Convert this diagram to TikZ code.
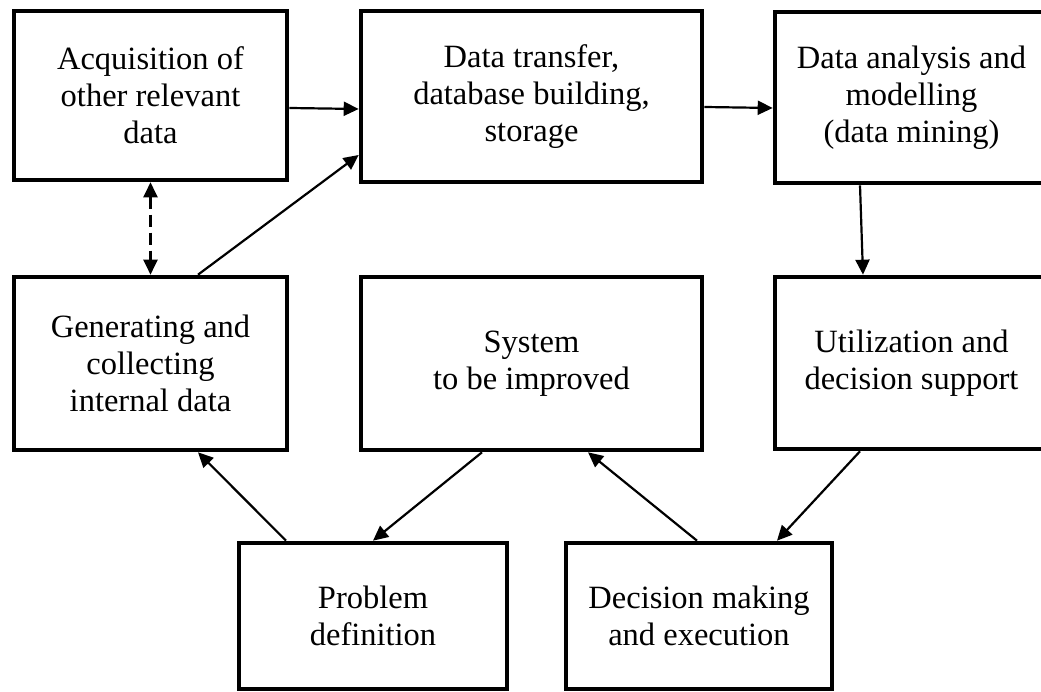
\documentclass[tikz,border=0pt]{standalone}
\usepackage{fontspec}
\setmainfont{Liberation Serif}
\usetikzlibrary{arrows.meta}
\begin{document}
\begin{tikzpicture}[x=1pt,y=1pt,
  box/.style={draw, line width=4.6pt, inner sep=0pt, align=center,
    font=\fontsize{32.5}{37}\selectfont},
  conn/.style={line width=2.2pt, -{Triangle[length=15pt,width=14pt]}},
  dconn/.style={line width=2.2pt, dash pattern=on 12pt off 6pt,
    {Triangle[length=15pt,width=14pt]}-{Triangle[length=15pt,width=14pt]}}]
\useasboundingbox (0,0) rectangle (1041,692);
\fill[white] (0,0) rectangle (1041,692);
\node[box, minimum width=273pt, minimum height=169pt] (b1) at (150.5,596.5) {Acquisition of\\other relevant\\data};
\node[box, minimum width=341pt, minimum height=171pt] (b2) at (531.5,595.5) {Data transfer,\\database building,\\storage};
\node[box, minimum width=273pt, minimum height=171pt] (b3) at (911.5,594.5) {Data analysis and\\modelling\\(data mining)};
\node[box, minimum width=273pt, minimum height=173pt] (b4) at (150.5,328.5) {Generating and\\collecting\\internal data};
\node[box, minimum width=341pt, minimum height=173pt] (b5) at (531.5,328.5) {System\\to be improved};
\node[box, minimum width=273pt, minimum height=172pt] (b6) at (911.5,329) {Utilization and\\decision support};
\node[box, minimum width=268pt, minimum height=146pt] (b7) at (373,76) {Problem\\definition};
\node[box, minimum width=266pt, minimum height=146pt] (b8) at (699,76) {Decision making\\and execution};
\draw[conn] ([yshift=-12.5pt]b1.east) -- ([yshift=-12.5pt]b2.west);
\draw[conn] ([xshift=47.5pt]b4.north) -- ([yshift=-58.5pt]b2.west);
\draw[dconn] (b1.south) -- (b4.north);
\draw[conn] ([yshift=-10.5pt]b2.east) -- ([yshift=-10.5pt]b3.west);
\draw[conn] ([xshift=-51.5pt]b3.south) -- ([xshift=-48.5pt]b6.north);
\draw[conn] ([xshift=-49.5pt]b5.south) -- (b7.north);
\draw[conn] ([xshift=-87pt]b7.north) -- ([xshift=47.5pt]b4.south);
\draw[conn] ([xshift=-2pt]b8.north) -- ([xshift=56.5pt]b5.south);
\draw[conn] ([xshift=-51.5pt]b6.south) -- ([xshift=78pt]b8.north);
\end{tikzpicture}
\end{document}
